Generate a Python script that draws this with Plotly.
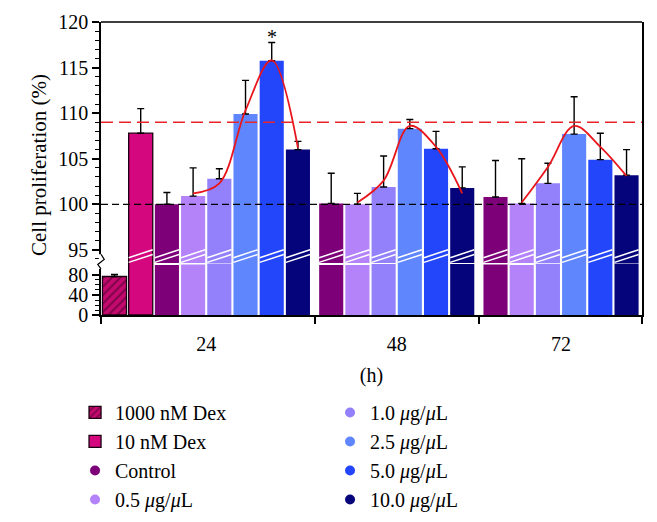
import plotly.graph_objects as go

# ---------------- data ----------------
groups = ["24", "48", "72"]
series_names = ["1000 nM Dex", "10 nM Dex", "Control",
                "0.5 <i>μ</i>g/<i>μ</i>L", "1.0 <i>μ</i>g/<i>μ</i>L",
                "2.5 <i>μ</i>g/<i>μ</i>L", "5.0 <i>μ</i>g/<i>μ</i>L",
                "10.0 <i>μ</i>g/<i>μ</i>L"]
series_colors = ["#c4096f", "#d4077e", "#7d0078", "#b483fa", "#9281fa",
                 "#5f86fc", "#2446fb", "#06047a"]

# values per group (None = not present in that group)
dex1000 = [77.0, None, None]
dex1000_err = [4.0, None, None]
dex10 = [107.8, None, None]
dex10_err = [2.7, None, None]
control = [100.0, 100.1, 100.8]
control_err = [1.3, 3.3, 4.0]
c05 = [100.9, 100.0, 100.1]
c05_err = [3.1, 1.2, 4.9]
c10 = [102.8, 101.9, 102.3]
c10_err = [1.1, 3.4, 2.2]
c25 = [109.9, 108.3, 107.7]
c25_err = [3.7, 1.0, 4.1]
c50 = [115.75, 106.1, 104.9]
c50_err = [2.0, 1.9, 2.9]
c100 = [106.0, 101.8, 103.2]
c100_err = [0.9, 2.3, 2.8]

# fitted curve values at the 0.5 .. 10.0 bars of each group
fit_24 = [101.2, 102.3, 110.3, 115.8, 106.2]
fit_48 = [100.2, 102.6, 108.6, 106.3, 101.2]
fit_72 = [100.2, 104.1, 108.6, 106.3, 103.1]

reference_line = 100
threshold_line = 109
y_upper_ticks = [95, 100, 105, 110, 115, 120]
y_lower_ticks = [0, 40, 80]

values = [dex1000, dex10, control, c05, c10, c25, c50, c100]
errors = [dex1000_err, dex10_err, control_err, c05_err, c10_err, c25_err, c50_err, c100_err]
fits = [fit_24, fit_48, fit_72]

# ---------------- layout geometry (slot units) ----------------
GROUP_GAP = 0.27
BAR_W = 0.92
X_LEFT_PAD = 0.515
X_RIGHT = 20.13
UPPER_RANGE = [93.56, 120]
LOWER_RANGE = [0, 104]
SPLIT = 0.1775

positions = {}
group_bounds = []
cursor = 0.0
for g in range(len(groups)):
    members = [s for s in range(len(values)) if values[s][g] is not None]
    start = cursor
    for s in members:
        positions[(s, g)] = cursor
        cursor += 1
    group_bounds.append((start, cursor - 1))
    cursor += GROUP_GAP

group_centers = [(a + b) / 2 for a, b in group_bounds]
boundaries = [-X_LEFT_PAD] + [(group_bounds[i][1] + group_bounds[i + 1][0]) / 2
                              for i in range(len(groups) - 1)] + [X_RIGHT]

FONT = "Liberation Serif, Times New Roman, serif"
fig = go.Figure()

legend_rank = [1, 3, 5, 7, 2, 4, 6, 8]

for s, name in enumerate(series_names):
    xs, ys, es = [], [], []
    for g in range(len(groups)):
        if values[s][g] is not None:
            xs.append(positions[(s, g)])
            ys.append(values[s][g])
            es.append(errors[s][g])
    is_dex = s < 2
    marker = dict(color=series_colors[s],
                  line=dict(color="#1a0010" if is_dex else series_colors[s],
                            width=1.3 if is_dex else 0))
    if s == 0:
        marker["pattern"] = dict(shape="/", fgcolor="#3a0024", bgcolor=series_colors[s],
                                 fillmode="overlay", size=6, solidity=0.35)
    err = dict(type="data", array=es, arrayminus=[0] * len(es), symmetric=False,
               color="black", thickness=1.4, width=3.5)
    high = any(v > UPPER_RANGE[0] for v in ys)
    fig.add_trace(go.Bar(x=xs, y=ys, width=BAR_W, marker=marker, yaxis="y2",
                         error_y=err if not high else None,
                         name=name, showlegend=(s == 0), legendrank=legend_rank[s],
                         hoverinfo="skip"))
    if high:
        fig.add_trace(go.Bar(x=xs, y=ys, width=BAR_W, marker=marker, yaxis="y",
                             error_y=err, name=name, showlegend=(s == 1),
                             legendrank=legend_rank[s], hoverinfo="skip"))
    if not is_dex:
        fig.add_trace(go.Scatter(x=[None], y=[None], mode="markers", name=name,
                                 marker=dict(symbol="circle", size=10, color=series_colors[s]),
                                 legendrank=legend_rank[s], showlegend=True))

for g in range(len(groups)):
    fx = [positions[(s, g)] for s in range(3, 8)]
    fig.add_trace(go.Scatter(x=fx, y=fits[g], mode="lines", yaxis="y",
                             line=dict(color="#e8161c", width=1.8, shape="spline", smoothing=1.0),
                             showlegend=False, hoverinfo="skip"))

shapes = []
shapes.append(dict(type="line", xref="paper", yref="y", x0=0, x1=1,
                   y0=reference_line, y1=reference_line,
                   line=dict(color="black", width=1.3, dash="7px,4px")))
shapes.append(dict(type="line", xref="paper", yref="y", x0=0, x1=1,
                   y0=threshold_line, y1=threshold_line,
                   line=dict(color="#e8262a", width=1.6, dash="12px,6px")))
shapes.append(dict(type="line", xref="paper", yref="paper", x0=0, x1=1, y0=1, y1=1,
                   line=dict(color="black", width=1.5)))
for s in range(len(values)):
    for g in range(len(groups)):
        v = values[s][g]
        if v is None or v < UPPER_RANGE[0]:
            continue
        xc = positions[(s, g)]
        for off in (0.0, -0.016):
            shapes.append(dict(type="line", xref="x", yref="paper",
                               x0=xc - BAR_W / 2, x1=xc + BAR_W / 2,
                               y0=SPLIT + 0.018 + off, y1=SPLIT + 0.045 + off,
                               line=dict(color="white", width=1.5)))
shapes.append(dict(type="rect", xref="paper", yref="paper", x0=-0.004, x1=0.004,
                   y0=SPLIT - 0.02, y1=SPLIT + 0.03, fillcolor="white",
                   line=dict(width=0)))
shapes.append(dict(type="path", xref="paper", yref="paper",
                   path=f"M 0,{SPLIT-0.02} L -0.006,{SPLIT-0.005} L 0.006,{SPLIT+0.012} L 0,{SPLIT+0.03}",
                   line=dict(color="black", width=1.2)))

annotations = [
    dict(text="Cell proliferation (%)", xref="paper", yref="paper", x=-0.1405, y=0.512,
         textangle=-90, showarrow=False, font=dict(family=FONT, size=21, color="black")),
    dict(text="*", xref="x", yref="y", x=positions[(6, 0)], y=118.3, showarrow=False,
         font=dict(family=FONT, size=20, color="black")),
]

# the page body adds an 8px offset, so the figure is 8px smaller than the window
fig.update_layout(
    width=649, height=514,
    margin=dict(l=93, r=15, t=14, b=207, autoexpand=False),
    paper_bgcolor="white", plot_bgcolor="white",
    barmode="overlay",
    font=dict(family=FONT, size=20, color="black"),
    shapes=shapes, annotations=annotations,
    xaxis=dict(range=[-X_LEFT_PAD, X_RIGHT], anchor="y2", automargin=False,
               tickvals=group_centers, ticktext=groups, ticks="outside", ticklen=0,
               ticklabelstandoff=10, tickfont=dict(size=20),
               minor=dict(tickvals=boundaries, ticks="outside", ticklen=7, tickwidth=1.5,
                          tickcolor="black"),
               showline=True, linecolor="black", linewidth=1.5, showgrid=False, zeroline=False,
               title=dict(text="(h)", standoff=14, font=dict(family=FONT, size=20))),
    yaxis=dict(domain=[SPLIT, 1], range=UPPER_RANGE, tickvals=y_upper_ticks, automargin=False,
               ticks="outside", ticklen=7, tickwidth=1.5, tickcolor="black",
               tickfont=dict(size=20),
               minor=dict(dtick=1, ticks="outside", ticklen=4, tickwidth=1.2, tickcolor="black"),
               showline=True, linecolor="black", linewidth=1.5, mirror=True,
               showgrid=False, zeroline=False, anchor="x"),
    yaxis2=dict(domain=[0, SPLIT], range=LOWER_RANGE, tickvals=y_lower_ticks, automargin=False,
                ticks="outside", ticklen=7, tickwidth=1.5, tickcolor="black",
                tickfont=dict(size=20),
                minor=dict(tickvals=list(range(0, 90, 10)), ticks="outside", ticklen=4,
                           tickwidth=1.2, tickcolor="black"),
                showline=True, linecolor="black", linewidth=1.5, mirror=True,
                showgrid=False, zeroline=False, anchor="x"),
    legend=dict(orientation="h", x=-0.048, xanchor="left", y=-0.266, yanchor="top",
                entrywidth=210, entrywidthmode="pixels", traceorder="normal",
                font=dict(family=FONT, size=20, color="black"), bgcolor="rgba(0,0,0,0)"),
    showlegend=True,
)

fig.write_html("out.html")
